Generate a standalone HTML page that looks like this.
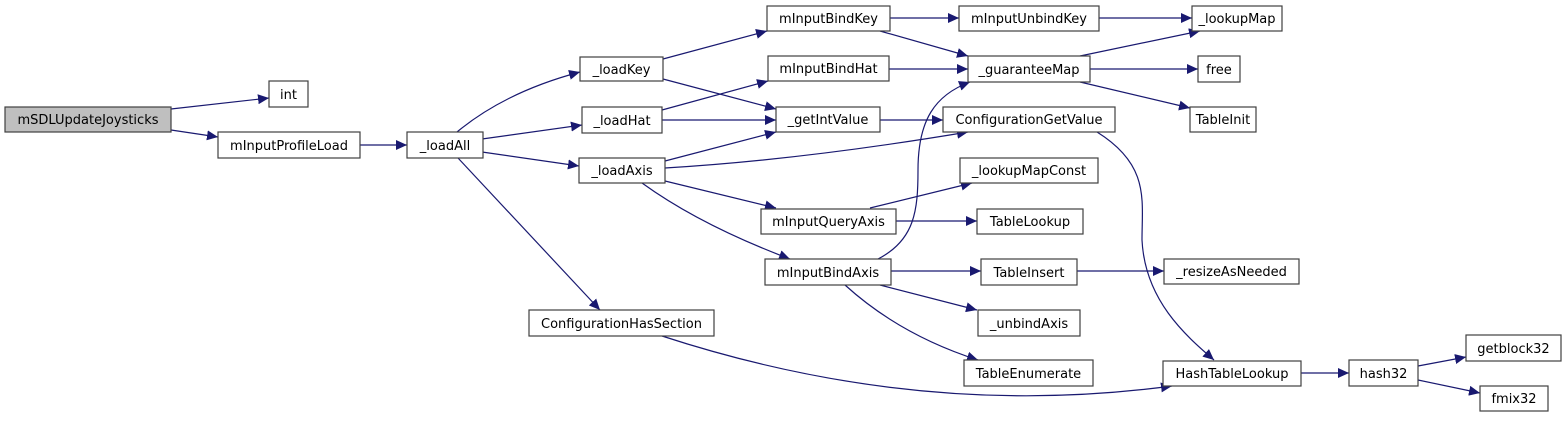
<!DOCTYPE html>
<html><head><meta charset="utf-8"><style>
html,body{margin:0;padding:0;background:#fff;}
svg text{font-family:"DejaVu Sans","Liberation Sans",sans-serif;font-size:13px;fill:#000;}
</style></head><body>
<svg width="1567" height="417" viewBox="0 0 1567 417" xmlns="http://www.w3.org/2000/svg">
<defs><marker id="a" markerUnits="userSpaceOnUse" markerWidth="12" markerHeight="10" refX="11" refY="5" orient="auto"><path d="M0,0 L11,5 L0,10 z" fill="#191970"/></marker></defs>
<g fill="none" stroke="#191970" stroke-width="1.2" marker-end="url(#a)">
<path d="M171,109 L269,98"/>
<path d="M171,130 L218,137"/>
<path d="M360,145 L407,145"/>
<path d="M457,132 Q505,92 580,72"/>
<path d="M482,139 L582,125"/>
<path d="M482,152 L579,166"/>
<path d="M458,158 L600,310"/>
<path d="M663,59 L767,31"/>
<path d="M663,79 L776,109"/>
<path d="M662,110 L768,81"/>
<path d="M662,120 L776,120"/>
<path d="M665,161 L776,132"/>
<path d="M665,168 Q800,160 968,132"/>
<path d="M665,181 L776,208"/>
<path d="M642,183 Q700,225 790,259"/>
<path d="M890,18 L959,18"/>
<path d="M880,31 L968,56"/>
<path d="M889,69 L968,69"/>
<path d="M880,120 L943,120"/>
<path d="M1099,18 L1192,18"/>
<path d="M1080,56 L1200,31"/>
<path d="M1090,69 L1198,69"/>
<path d="M1080,82 L1190,108"/>
<path d="M1097,132 C1150,165 1142,200 1142,240 C1145,300 1185,335 1214,360"/>
<path d="M870,208 L972,183"/>
<path d="M896,221 L977,221"/>
<path d="M878,259 C915,240 918,210 918,170 C918,120 935,95 970,82"/>
<path d="M891,271 L981,271"/>
<path d="M880,285 L977,310"/>
<path d="M845,285 Q900,335 978,360"/>
<path d="M1077,271 L1164,271"/>
<path d="M662,336 Q920,420 1172,386"/>
<path d="M1301,373 L1349,373"/>
<path d="M1418,366 L1466,357"/>
<path d="M1418,380 L1480,393"/>
</g>
<g stroke="#404040" stroke-width="1.2" fill="#fff">
<rect x="5" y="107" width="166" height="25" fill="#bfbfbf"/>
<rect x="269" y="81" width="39" height="26"/>
<rect x="218" y="132" width="142" height="26"/>
<rect x="407" y="132" width="76" height="26"/>
<rect x="580" y="57" width="83" height="24"/>
<rect x="582" y="107" width="80" height="26"/>
<rect x="579" y="158" width="86" height="25"/>
<rect x="767" y="6" width="123" height="25"/>
<rect x="768" y="56" width="121" height="25"/>
<rect x="776" y="107" width="104" height="25"/>
<rect x="959" y="6" width="140" height="25"/>
<rect x="968" y="56" width="122" height="26"/>
<rect x="943" y="107" width="172" height="25"/>
<rect x="960" y="158" width="138" height="25"/>
<rect x="1192" y="6" width="90" height="25"/>
<rect x="1198" y="56" width="42" height="26"/>
<rect x="1190" y="107" width="66" height="25"/>
<rect x="761" y="209" width="135" height="25"/>
<rect x="977" y="209" width="106" height="25"/>
<rect x="765" y="259" width="126" height="26"/>
<rect x="981" y="259" width="96" height="26"/>
<rect x="978" y="310" width="102" height="26"/>
<rect x="529" y="310" width="185" height="26"/>
<rect x="964" y="360" width="129" height="26"/>
<rect x="1164" y="259" width="135" height="25"/>
<rect x="1163" y="361" width="138" height="25"/>
<rect x="1349" y="360" width="69" height="26"/>
<rect x="1466" y="335" width="95" height="26"/>
<rect x="1480" y="386" width="68" height="25"/>
</g>
<g text-anchor="middle">
<text x="88" y="124">mSDLUpdateJoysticks</text>
<text x="288.5" y="99">int</text>
<text x="289" y="150">mInputProfileLoad</text>
<text x="445" y="150">_loadAll</text>
<text x="621.5" y="74">_loadKey</text>
<text x="622" y="125">_loadHat</text>
<text x="622" y="175">_loadAxis</text>
<text x="828.5" y="23">mInputBindKey</text>
<text x="828.5" y="73">mInputBindHat</text>
<text x="828" y="124">_getIntValue</text>
<text x="1029" y="23">mInputUnbindKey</text>
<text x="1029" y="74">_guaranteeMap</text>
<text x="1029" y="124">ConfigurationGetValue</text>
<text x="1029" y="175">_lookupMapConst</text>
<text x="1237" y="23">_lookupMap</text>
<text x="1219" y="74">free</text>
<text x="1223" y="124">TableInit</text>
<text x="828.5" y="226">mInputQueryAxis</text>
<text x="1030" y="226">TableLookup</text>
<text x="828" y="277">mInputBindAxis</text>
<text x="1029" y="277">TableInsert</text>
<text x="1029" y="328">_unbindAxis</text>
<text x="621.5" y="328">ConfigurationHasSection</text>
<text x="1028.5" y="378">TableEnumerate</text>
<text x="1231.5" y="276">_resizeAsNeeded</text>
<text x="1232" y="378">HashTableLookup</text>
<text x="1383.5" y="378">hash32</text>
<text x="1513.5" y="353">getblock32</text>
<text x="1514" y="403">fmix32</text>
</g>
</svg>
</body></html>
